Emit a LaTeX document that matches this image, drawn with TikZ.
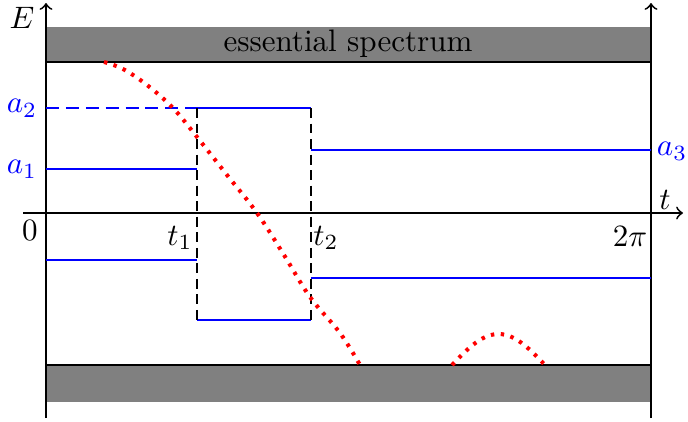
\documentclass[tikz,border=0pt]{standalone}
\begin{document}
\begin{tikzpicture}[x=0.322pt,y=-0.322pt,
  axis/.style={semithick,->},
  level/.style={blue,semithick},
  band/.style={fill=gray},
  edge/.style={semithick},
  vdash/.style={semithick,dash pattern=on 3.2pt off 1.8pt},
  bdash/.style={blue,thin,dash pattern=on 4.2pt off 2.2pt},
  curve/.style={red,line width=1.3pt,dash pattern=on 1.1pt off 2.1pt},
  lbl/.style={inner sep=0pt}]
\useasboundingbox (0,0) rectangle (688,421);
% bands
\fill[band] (46,27) rectangle (651,62);
\fill[band] (46,365) rectangle (651,402);
\node[lbl] (ess) at (348,44) {essential spectrum};
\draw[edge] (46,62) -- (651,62);
\draw[edge] (46,365) -- (651,365);
% axes
\coordinate (L0) at (46,418); \coordinate (L1) at (46,3);
\coordinate (R0) at (651,418); \coordinate (R1) at (651,3);
\coordinate (T0) at (23,213); \coordinate (T1) at (683,213);
\draw[axis] (L0) -- (L1);
\draw[axis] (R0) -- (R1);
\draw[axis] (T0) -- (T1);
% levels
\draw[bdash] (46,108) -- (197,108);
\draw[level] (46,169) -- (197,169);
\draw[level] (197,108) -- (311,108);
\draw[level] (311,150) -- (651,150);
\draw[level] (46,260) -- (197,260);
\draw[level] (197,320) -- (311,320);
\draw[level] (311,278) -- (651,278);
\draw[vdash] (197,108) -- (197,320);
\draw[vdash] (311,108) -- (311,320);
% red curves
\draw[curve] plot[smooth,tension=0.6] coordinates {(104,62) (123,69) (147,85) (173,108) (197,137) (227,175) (257,213) (284,255) (310,297) (340,333) (360,365)};
\draw[curve] plot[domain=0:1,samples=40,variable=\s] ({452+93*\s},{365-31*sin(180*\s)});
% labels
\node[lbl] (E) at (22,18) {$E$};
\node[lbl,blue] (a2) at (22,108) {$a_2$};
\node[lbl,blue] (a1) at (22,169) {$a_1$};
\node[lbl,blue] (a3) at (672,151) {$a_3$};
\node[lbl] (zero) at (30,230) {$0$};
\node[lbl] (t1) at (180,238) {$t_1$};
\node[lbl] (t2) at (326,238) {$t_2$};
\node[lbl] (tp) at (630,236) {$2\pi$};
\node[lbl] (t) at (665,200) {$t$};
\end{tikzpicture}
\end{document}
